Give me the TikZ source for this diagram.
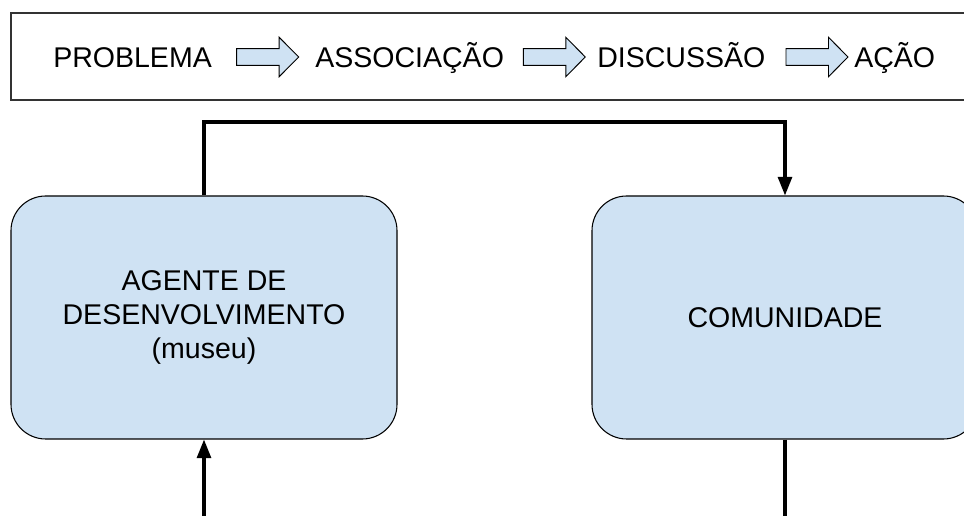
\documentclass[tikz,border=0pt]{standalone}
\usepackage{fontspec}
\setmainfont{Liberation Sans}
\usepackage{tikz}
\usetikzlibrary{arrows.meta}

\definecolor{azulclaro}{HTML}{CFE2F3}

\tikzset{
  caixa/.style={draw=black, line width=0.8pt, fill=azulclaro, rounded corners=26pt,
    minimum width=289.5pt, minimum height=182.25pt, align=center,
    font=\fontsize{21.4}{25.5}\selectfont},
  rotulo/.style={anchor=base west, inner sep=0pt, font=\fontsize{21.4}{25.5}\selectfont},
  setabloco/.style={draw=black, line width=0.7pt, fill=azulclaro, line join=miter},
  ligacao/.style={line width=2.3pt, -{Triangle[length=14pt,width=10.5pt]}}
}

\begin{document}
\begin{tikzpicture}[x=0.75pt,y=-0.75pt]
  \useasboundingbox (0,0) rectangle (964,516);
  \draw[black!80, line width=1pt] (11,13) rectangle (975,100);
  \node[rotulo] (prob) at (53,67.4) {PROBLEMA};
  \node[rotulo] (assoc) at (315,67.4) {ASSOCIAÇÃO};
  \node[rotulo] (disc) at (597,67.4) {DISCUSSÃO};
  \node[rotulo] (acao) at (854,67.4) {AÇÃO};
  \begin{scope}[shift={(236.7,57)}]
    \draw[setabloco] (0,-8.4) -- (42.5,-8.4) -- (42.5,-19.7) -- (62,0) -- (42.5,19.7) -- (42.5,8.4) -- (0,8.4) -- cycle;
  \end{scope}
  \begin{scope}[shift={(523.3,57)}]
    \draw[setabloco] (0,-8.4) -- (42.5,-8.4) -- (42.5,-19.7) -- (62,0) -- (42.5,19.7) -- (42.5,8.4) -- (0,8.4) -- cycle;
  \end{scope}
  \begin{scope}[shift={(786,57)}]
    \draw[setabloco] (0,-8.4) -- (42.5,-8.4) -- (42.5,-19.7) -- (62,0) -- (42.5,19.7) -- (42.5,8.4) -- (0,8.4) -- cycle;
  \end{scope}

  \node[caixa] (agente) at (204,317.5) {AGENTE DE\\DESENVOLVIMENTO\\(museu)};
  \node[caixa] (comunidade) at (785,317.5) {COMUNIDADE};

  \coordinate (topo) at (0,122);
  \coordinate (fundo) at (0,520);
  \draw[ligacao] (agente.north) -- (agente.north |- topo) -- (comunidade.north |- topo) -- (comunidade.north);
  \draw[ligacao] (agente.south |- fundo) -- (agente.south);
  \draw[line width=2.3pt] (comunidade.south) -- (comunidade.south |- fundo);
\end{tikzpicture}
\end{document}
